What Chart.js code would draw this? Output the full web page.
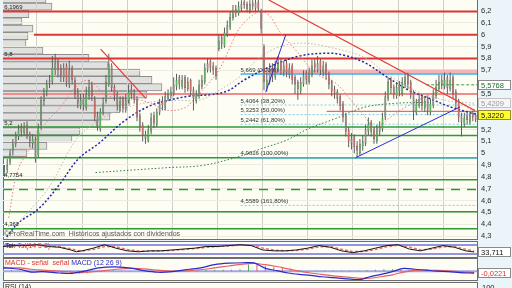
<!DOCTYPE html>
<html>
<head>
<meta charset="utf-8">
<script src="https://cdn.jsdelivr.net/npm/chart.js@4.4.1/dist/chart.umd.min.js"></script>
<style>
  html, body { margin: 0; padding: 0; }
  body { width: 512px; height: 288px; overflow: hidden; position: relative; background: #eaf4f9; font-family: "Liberation Sans", Arial, sans-serif; }
  .pane { position: absolute; left: 3px; width: 475px; box-sizing: border-box; border: 1px solid #6d6d6d; background: #fdfdf4; }
  canvas { position: absolute; }
  .txt { position: absolute; font-size: 7px; white-space: nowrap; color: #222; }
</style>
</head>
<body>
<div class="pane" style="top:-1px;height:241px"></div>
<div class="pane" style="top:241px;height:17px"></div>
<div class="pane" style="top:258px;height:23px"></div>
<div class="pane" style="top:282px;height:10px"></div>
<canvas id="vp" width="474" height="239" style="left:3px;top:0"></canvas>
<canvas id="main" width="512" height="239" style="left:0;top:0"></canvas>
<canvas id="sto" width="512" height="15" style="left:0;top:242px"></canvas>
<canvas id="macd" width="512" height="21" style="left:0;top:259px"></canvas>
<div class="txt" style="left:5px;top:283px">RSI (14)</div>
<div class="txt" style="left:482px;top:283px;font-size:7.5px">100</div>
<script>
const N = 168;

// daily candles
const opens = [
  4.82,4.86,4.92,5.02,5.08,5.14,5.22,5.17,5.24,5.16,5.08,5.12,
  4.98,5.24,5.44,5.52,5.62,5.60,5.70,5.78,5.72,5.64,5.74,5.58,
  5.72,5.62,5.52,5.40,5.47,5.38,5.48,5.58,5.46,5.32,5.20,5.34,
  5.44,5.58,5.74,5.56,5.50,5.38,5.46,5.36,5.44,5.54,5.50,5.46,
  5.32,5.24,5.16,5.10,5.18,5.32,5.24,5.34,5.44,5.38,5.46,5.48,
  5.50,5.56,5.64,5.56,5.64,5.54,5.62,5.54,5.44,5.48,5.56,5.60,
  5.70,5.78,5.74,5.72,5.88,5.98,5.90,6.00,6.06,6.14,6.22,6.18,
  6.22,6.28,6.26,6.20,6.27,6.22,6.28,6.20,5.90,5.56,5.60,5.72,
  5.64,5.70,5.78,5.68,5.76,5.66,5.74,5.64,5.60,5.52,5.58,5.68,
  5.60,5.66,5.76,5.70,5.78,5.68,5.75,5.67,5.60,5.54,5.52,5.48,
  5.42,5.32,5.20,5.08,5.14,5.06,5.00,5.06,5.08,5.18,5.26,5.20,
  5.10,5.18,5.20,5.30,5.46,5.62,5.56,5.48,5.58,5.50,5.58,5.66,
  5.60,5.52,5.34,5.40,5.48,5.38,5.46,5.34,5.40,5.48,5.54,5.62,
  5.56,5.64,5.54,5.64,5.52,5.44,5.32,5.24,5.32,5.26,5.34,5.28
];
const highs = [
  4.90,4.95,5.03,5.12,5.18,5.24,5.25,5.26,5.27,5.18,5.16,5.14,
  5.25,5.48,5.55,5.62,5.66,5.82,5.84,5.80,5.75,5.76,5.76,5.78,
  5.74,5.64,5.55,5.50,5.50,5.56,5.62,5.60,5.48,5.35,5.38,5.47,
  5.66,5.84,5.76,5.58,5.52,5.48,5.48,5.50,5.58,5.58,5.54,5.48,
  5.34,5.26,5.19,5.24,5.34,5.35,5.38,5.46,5.48,5.52,5.54,5.56,
  5.64,5.67,5.66,5.66,5.66,5.64,5.63,5.56,5.53,5.62,5.66,5.76,
  5.80,5.80,5.77,5.74,6.00,6.00,6.06,6.12,6.19,6.25,6.25,6.28,
  6.29,6.30,6.28,6.29,6.30,6.30,6.30,6.22,5.92,5.68,5.76,5.76,
  5.78,5.82,5.80,5.78,5.79,5.76,5.76,5.66,5.62,5.64,5.70,5.70,
  5.72,5.79,5.80,5.82,5.80,5.78,5.77,5.69,5.62,5.57,5.54,5.50,
  5.44,5.34,5.22,5.17,5.16,5.10,5.12,5.15,5.24,5.30,5.28,5.22,
  5.24,5.27,5.34,5.52,5.64,5.64,5.58,5.60,5.61,5.64,5.67,5.68,
  5.62,5.53,5.46,5.50,5.50,5.48,5.48,5.46,5.54,5.62,5.66,5.66,
  5.68,5.66,5.68,5.66,5.54,5.46,5.34,5.34,5.35,5.35,5.36,5.34
];
const lows = [
  4.80,4.83,4.90,4.98,5.05,5.11,5.14,5.15,5.12,5.05,5.04,4.92,
  4.96,5.20,5.40,5.48,5.55,5.58,5.66,5.64,5.60,5.60,5.56,5.55,
  5.58,5.46,5.38,5.37,5.36,5.36,5.45,5.44,5.27,5.19,5.18,5.32,
  5.42,5.56,5.52,5.44,5.36,5.35,5.34,5.34,5.42,5.46,5.42,5.27,
  5.18,5.10,5.08,5.09,5.16,5.21,5.22,5.32,5.36,5.36,5.44,5.46,
  5.48,5.53,5.54,5.54,5.51,5.52,5.48,5.36,5.42,5.46,5.54,5.58,
  5.68,5.68,5.66,5.62,5.86,5.88,5.89,5.98,6.04,6.12,6.15,6.16,
  6.20,6.22,6.19,6.18,6.21,6.20,6.20,6.01,5.53,5.52,5.58,5.60,
  5.62,5.68,5.66,5.65,5.64,5.63,5.58,5.50,5.45,5.50,5.56,5.58,
  5.58,5.64,5.68,5.68,5.66,5.65,5.62,5.54,5.48,5.46,5.42,5.36,
  5.26,5.14,5.05,5.03,5.00,4.9616,4.98,5.02,5.06,5.15,5.14,5.08,
  5.08,5.15,5.18,5.28,5.44,5.50,5.46,5.46,5.48,5.48,5.55,5.54,
  5.46,5.28,5.32,5.38,5.36,5.35,5.32,5.32,5.38,5.46,5.52,5.54,
  5.54,5.50,5.52,5.46,5.38,5.26,5.14,5.22,5.24,5.24,5.27,5.26
];
const closes = [
  4.85,4.90,5.00,5.08,5.15,5.20,5.18,5.22,5.15,5.10,5.12,4.95,
  5.22,5.45,5.50,5.58,5.60,5.72,5.76,5.70,5.66,5.72,5.60,5.70,
  5.62,5.50,5.42,5.45,5.40,5.50,5.56,5.48,5.30,5.22,5.35,5.42,
  5.60,5.75,5.55,5.48,5.40,5.44,5.38,5.45,5.52,5.50,5.45,5.30,
  5.22,5.15,5.12,5.20,5.30,5.25,5.35,5.42,5.40,5.48,5.50,5.52,
  5.58,5.62,5.58,5.62,5.55,5.60,5.52,5.46,5.50,5.58,5.62,5.72,
  5.76,5.72,5.70,5.65,5.95,5.92,6.02,6.08,6.15,6.20,6.18,6.24,
  6.26,6.25,6.22,6.26,6.24,6.27,6.22,6.05,5.60,5.62,5.70,5.65,
  5.72,5.76,5.70,5.74,5.68,5.72,5.62,5.58,5.54,5.60,5.66,5.62,
  5.68,5.74,5.72,5.76,5.70,5.74,5.66,5.58,5.52,5.50,5.46,5.40,
  5.30,5.18,5.10,5.12,5.05,5.02,5.08,5.10,5.20,5.25,5.18,5.12,
  5.20,5.22,5.30,5.48,5.60,5.55,5.50,5.56,5.52,5.60,5.64,5.58,
  5.50,5.35,5.42,5.46,5.40,5.44,5.36,5.42,5.50,5.56,5.60,5.58,
  5.62,5.55,5.62,5.50,5.42,5.30,5.26,5.30,5.28,5.32,5.30,5.322
];

const monthStarts = [12, 28, 44, 60, 76, 92, 108, 124, 140, 156];
const priceTicks = [6.2, 6.1, 6, 5.9, 5.8, 5.7, 5.5, 5.2, 5.1, 5, 4.9, 4.8, 4.7, 4.6, 4.5, 4.4, 4.3];
const priceMin = 4.275, priceMax = 6.293;

// volume profile (left)
const vpPrice = [6.299, 6.237, 6.175, 6.113, 6.051, 5.989, 5.928, 5.866, 5.804, 5.742, 5.680,
                 5.618, 5.556, 5.494, 5.433, 5.371, 5.309, 5.247, 5.185, 5.123, 5.061, 5.000];
const vpVolume = [43, 49, 26, 19, 30, 25, 23, 40, 86, 105, 137, 149, 159, 144, 127, 117, 107, 94, 77, 69, 44, 24];

// horizontal levels
const resistLevels = [6.1969, 6.0, 5.8];
const resistFrom = [0, 11, 0];
const supportLevels = [5.22, 5.149, 4.9616, 4.7754, 4.505, 4.362];
const dashedLevel = 4.692;
const pinkLevel = 5.5;
const bandLevel = 5.69, bandFrom = 92.5;
const shortRedLevel = 5.353, shortRedFrom = 114.7;
const fibLevels = [5.669, 5.4064, 5.3253, 5.2442, 4.9616, 4.5589];
const fibLabels = ['5,669 (0,00%)', '5,4064 (38,20%)', '5,3253 (50,00%)', '5,2442 (61,80%)', '4,9616 (100,00%)', '4,5589 (161,80%)'];
const fibFrom = 84.2;
const levelLabels = ['6,1969', '5,8', '5,2', '4,7754', '4,362'];
const levelLabelAt = [6.1969, 5.8, 5.22, 4.7754, 4.362];
const greenMark = 5.5768, greenMarkFrom = 150;

// trend lines [index, price]
const trendRed1 = [[34.6, 5.878], [50.6, 5.463]];
const trendRed2 = [[94.2, 6.293], [167.3, 5.36]];
const trendBlue1 = [[93.1, 5.514], [100.2, 5.997]];
const trendBlue2 = [[125.0, 4.9616], [162.0, 5.39]];

// moving averages
const maBlueIdx = [1.3, 5.5, 12.6, 19.7, 26.8, 33.9, 42.8, 51.6, 58.7, 65.8, 74.7, 80, 85.3, 94.2, 104.8, 115.5, 120.8, 127.9, 136.8, 143.9, 151.1, 158, 165.1, 167.5];
const maBlueVal = [4.293, 4.412, 4.530, 4.725, 4.954, 5.081, 5.268, 5.395, 5.446, 5.480, 5.497, 5.53, 5.615, 5.725, 5.819, 5.844, 5.827, 5.768, 5.632, 5.53, 5.463, 5.395, 5.344, 5.33];
const maGrayIdx = [1.3, 5.5, 16.2, 25.7, 32.8, 41, 51.6, 62.3, 69.4, 75.4, 84.6, 90.6, 97.7, 105.9, 115.5, 127.9, 136.7, 147.4, 158, 165.1, 167.5];
const maGrayVal = [4.276, 4.412, 4.708, 5.107, 5.259, 5.361, 5.429, 5.446, 5.446, 5.514, 5.658, 5.802, 5.895, 5.929, 5.895, 5.81, 5.658, 5.514, 5.44, 5.425, 5.4209];
const maRedIdx = [2.0, 5.5, 11.6, 15.1, 20.8, 25.7, 29.6, 32.8, 36.4, 43.5, 49.1, 52.3, 58.7, 64.7, 68.3, 72.9, 76.5, 80, 82.8, 85.3, 90.6, 94.2, 98.4, 103.8, 110.8, 118, 122.5, 127.9, 132.1, 136.7, 143.8, 154.5, 160.5, 165.1, 167.5];
const maRedVal = [4.454, 4.870, 5.107, 5.251, 5.403, 5.556, 5.615, 5.573, 5.488, 5.463, 5.446, 5.42, 5.361, 5.386, 5.471, 5.59, 5.7, 5.869, 6.014, 6.098, 6.192, 6.166, 6.014, 5.869, 5.675, 5.59, 5.471, 5.319, 5.208, 5.293, 5.403, 5.514, 5.446, 5.378, 5.36];
const maGreenIdx = [32.8, 58.7, 70.4, 82.5, 91.7, 100.2, 108.4, 118, 127.9, 138.5, 151];
const maGreenVal = [4.836, 4.878, 4.895, 4.963, 5.039, 5.107, 5.208, 5.293, 5.386, 5.42, 5.429];

// oscillator panel
const stoIdx = [0,4,8,12,16,20,24,26,28,32,36,40,44,48,52,56,60,64,68,72,76,80,84,88,92,96,100,104,108,112,116,120,124,128,132,136,140,144,148,152,156,160,164,167];
const stoK = [70,76,76,82,70,65,47,35,41,59,82,59,41,35,41,41,47,53,59,70,70,76,82,76,47,41,41,47,59,76,65,41,29,41,59,76,82,53,41,59,76,65,41,33.711];
const stoD = [72,74,77,79,75,68,55,45,40,50,70,68,50,40,38,41,44,50,56,64,70,73,79,79,60,46,41,44,52,68,70,52,36,36,50,68,79,66,48,52,68,70,52,40];

// MACD panel
const macdIdx = [0,6,10,14,20,24,28,34,40,46,50,55,60,66,70,75,80,85,89,93,97,101,105,109,113,117,121,125,127,130,134,138,142,146,150,154,158,162,167];
const macdVal = [0.035,0.02,-0.01,-0.005,-0.02,-0.025,-0.005,0.035,0.045,0.03,0.005,-0.012,-0.005,0.02,0.035,0.07,0.085,0.09,0.088,0.03,0.005,-0.02,-0.035,-0.045,-0.06,-0.07,-0.08,-0.09,-0.088,-0.06,-0.035,-0.005,0.03,0.02,0.01,0.0,-0.005,-0.015,-0.0221];
const signalVal = [0.04,0.035,0.02,0.01,0.0,-0.01,-0.015,0.0,0.02,0.03,0.025,0.01,0.0,0.005,0.015,0.035,0.055,0.075,0.082,0.07,0.05,0.025,0.0,-0.02,-0.035,-0.05,-0.062,-0.072,-0.078,-0.075,-0.06,-0.04,-0.01,0.008,0.012,0.008,0.002,-0.006,-0.015];
const histVal = [0.015,0.012,0.005,0.0,-0.004,-0.006,-0.01,-0.018,-0.025,-0.028,
  -0.022,-0.012,0.004,0.008,0.006,0.003,-0.002,-0.004,-0.003,0.002,
  0.004,0.006,0.008,0.01,0.012,0.014,0.015,0.014,0.02,0.07,
  0.068,0.055,0.045,0.035,0.025,0.012,0.004,0.005,0.006,0.007,
  0.006,0.006,0.008,0.012,0.016,0.02,0.022,0.018,0.012,0.008,
  -0.004,-0.006,-0.008,-0.01,-0.012,-0.012];
const histIdx = histVal.map((v, k) => k * 3);

const FONT = '"Liberation Sans"';
const fmt = v => String(Math.round(v * 10) / 10).replace('.', ',');
const pts = (idx, val) => idx.map((x, k) => ({ x: x, y: val[k] }));
const hline = (y, from, color, width, dash, order) => ({
  type: 'line', data: [{ x: from, y: y }, { x: N, y: y }], borderColor: color, borderWidth: width,
  borderDash: dash || [], pointRadius: 0, order: order || 20
});
const seg = (p, color, width) => ({
  type: 'line', data: p.map(q => ({ x: q[0], y: q[1] })), borderColor: color, borderWidth: width, pointRadius: 0, order: 1
});
const ma = (idx, val, color, width, dash) => ({
  type: 'line', data: pts(idx, val), borderColor: color, borderWidth: width, borderDash: dash,
  pointRadius: 0, tension: 0.35, order: 8
});

function box(ctx, text, yc, bg, fg, line) {
  const y = Math.round(yc);
  ctx.fillStyle = bg;
  ctx.fillRect(478, y - 5, 33, 10);
  ctx.strokeStyle = line;
  ctx.lineWidth = 1;
  ctx.strokeRect(478.5, y - 4.5, 32, 9);
  ctx.fillStyle = fg;
  ctx.textAlign = 'left';
  ctx.textBaseline = 'middle';
  ctx.fillText(text, 481, y + 0.5);
}

const common = {
  animation: false, responsive: false, events: [],
  plugins: { legend: { display: false }, tooltip: { enabled: false } }
};

// volume profile chart (behind)
new Chart(document.getElementById('vp'), {
  type: 'bar',
  data: { datasets: [{
    data: pts(vpPrice, vpVolume).map(p => ({ x: p.y, y: p.x })),
    backgroundColor: '#e0e0de', borderColor: '#8e8e8e', borderWidth: 1,
    barPercentage: 1, categoryPercentage: 1
  }] },
  options: Object.assign({}, common, {
    indexAxis: 'y',
    scales: {
      x: { type: 'linear', min: 0, max: 474, display: false },
      y: { type: 'linear', min: priceMin, max: priceMax, display: false, offset: false }
    }
  })
});

// main price chart
const datasets = [];
resistLevels.forEach((v, k) => datasets.push(hline(v, resistFrom[k], '#e03434', 2)));
supportLevels.forEach(v => datasets.push(hline(v, 0, '#2f9a35', 1.5)));
datasets.push(hline(dashedLevel, 0, '#2f9a35', 1.5, [9, 7]));
datasets.push(hline(pinkLevel, 0, '#f08c8c', 2));
datasets.push(hline(bandLevel, bandFrom, '#f4b4b4', 4));
datasets.push(hline(shortRedLevel, shortRedFrom, '#e04a4a', 1));
fibLevels.forEach((v, k) => datasets.push(
  (k === 0 || k === 4) ? hline(v, fibFrom, '#35b2ee', 1.5, [], 19) : hline(v, fibFrom, '#7ccbf2', 1, [2, 2], 19)));
datasets.push(hline(greenMark, greenMarkFrom, '#3d9a50', 1, [3, 2], 9));
datasets.push(ma(maGrayIdx, maGrayVal, '#b9b9b4', 1, [1.5, 2]));
datasets.push(ma(maGreenIdx, maGreenVal, '#2d7d45', 1, [1.5, 2]));
datasets.push(ma(maRedIdx, maRedVal, '#e87a7a', 1, [1.5, 2]));
datasets.push(ma(maBlueIdx, maBlueVal, '#2424a8', 1.5, [2, 2]));
datasets.push({
  type: 'bar', data: closes.map((c, i) => ({ x: i + 0.5, y: [lows[i], highs[i]] })),
  backgroundColor: '#5e5e5e', maxBarThickness: 1, grouped: false, order: 4
});
datasets.push({
  type: 'bar', data: closes.map((c, i) => ({ x: i + 0.5, y: [opens[i], c] })),
  backgroundColor: closes.map((c, i) => c >= opens[i] ? '#5cc25c' : '#e46a6a'),
  borderColor: '#6a6a6a', borderWidth: 0.6, borderSkipped: false,
  maxBarThickness: 3, minBarLength: 1, grouped: false, order: 3
});
datasets.push(seg(trendRed1, '#e23a3a', 1.2));
datasets.push(seg(trendRed2, '#e23a3a', 1.2));
datasets.push(seg(trendBlue1, '#2b2bd0', 1));
datasets.push(seg(trendBlue2, '#2b2bd0', 1));

const mainText = {
  id: 'mainText',
  afterDatasetsDraw(chart) {
    const ctx = chart.ctx, x = chart.scales.x, y = chart.scales.y;
    ctx.save();
    ctx.font = '6px ' + FONT;
    ctx.fillStyle = '#222';
    ctx.textAlign = 'left';
    ctx.textBaseline = 'bottom';
    levelLabels.forEach((t, k) => ctx.fillText(t, x.getPixelForValue(0.4), y.getPixelForValue(levelLabelAt[k]) - 1));
    ctx.fillStyle = '#333';
    fibLabels.forEach((t, k) => ctx.fillText(t, x.getPixelForValue(fibFrom), y.getPixelForValue(fibLevels[k]) - 1));
    ctx.font = '7px ' + FONT;
    ctx.fillStyle = '#555';
    ctx.textBaseline = 'alphabetic';
    ctx.fillText('©ProRealTime.com  Históricos ajustados con dividendos', 4, chart.chartArea.bottom - 3);
    ctx.restore();
  },
  afterDraw(chart) {
    const ctx = chart.ctx, y = chart.scales.y;
    ctx.save();
    ctx.font = '7.5px ' + FONT;
    box(ctx, '5,5768', y.getPixelForValue(5.5768), '#ffffff', '#1f6e2e', '#8a8a8a');
    box(ctx, '5,4209', y.getPixelForValue(5.4209), '#f6f6f6', '#9a9a9a', '#c4c4c4');
    box(ctx, '5,3220', y.getPixelForValue(5.322), '#ffff30', '#111', '#9a8a30');
    ctx.restore();
  }
};

new Chart(document.getElementById('main'), {
  type: 'line',
  data: { datasets: datasets },
  options: Object.assign({}, common, {
    layout: { padding: { left: 3, right: 0, top: 0, bottom: 0 } },
    scales: {
      x: {
        type: 'linear', min: 0, max: N, offset: false,
        afterBuildTicks: s => { s.ticks = monthStarts.map(v => ({ value: v })); },
        ticks: { display: false },
        grid: { color: '#d0d0ca', drawTicks: false, offset: false },
        border: { display: false }
      },
      y: {
        type: 'linear', position: 'right', min: priceMin, max: priceMax,
        afterBuildTicks: s => { s.ticks = priceTicks.map(v => ({ value: v })); },
        afterFit: s => { s.width = 35; s.paddingTop = 0; s.paddingBottom = 0; },
        ticks: { font: { family: 'Liberation Sans', size: 7.5 }, color: '#2a2a2a', padding: 4, callback: v => fmt(v) },
        grid: { color: '#ebebe0', drawTicks: false },
        border: { display: false }
      }
    }
  }),
  plugins: [mainText]
});

function panelText(parts, boxText, boxValue, boxFg) {
  return {
    id: 'panelText',
    afterDraw(chart) {
      const ctx = chart.ctx;
      ctx.save();
      ctx.font = '7px ' + FONT;
      ctx.textBaseline = 'top';
      ctx.textAlign = 'left';
      let x = 5;
      parts.forEach(p => { ctx.fillStyle = p[1]; ctx.fillText(p[0], x, 0.5); x += ctx.measureText(p[0]).width; });
      ctx.font = '7.5px ' + FONT;
      box(ctx, boxText, chart.scales.y.getPixelForValue(boxValue), '#ffffff', boxFg, '#8a8a8a');
      ctx.restore();
    }
  };
}

const panelScales = (min, max) => ({
  x: { type: 'linear', min: 0, max: N, display: false, offset: false },
  y: { type: 'linear', min: min, max: max, display: false }
});

new Chart(document.getElementById('sto'), {
  type: 'line',
  data: { datasets: [
    { data: pts(stoIdx, stoK), borderColor: '#151515', borderWidth: 1, pointRadius: 0, order: 1 },
    { data: pts(stoIdx, stoD), borderColor: '#ec7272', borderWidth: 1.5, borderDash: [3, 2], pointRadius: 0, order: 2 },
    hline(80, 0, '#9494e4', 2),
    hline(20, 0, '#9494e4', 2)
  ] },
  options: Object.assign({}, common, { layout: { padding: { left: 3, right: 35 } }, scales: panelScales(0, 100) }),
  plugins: [panelText([['Tsi: ', '#111'], ['Tsi(14 5 3)', '#e03030']], '33,711', stoK[stoK.length - 1], '#111')]
});

new Chart(document.getElementById('macd'), {
  type: 'line',
  data: { datasets: [
    { type: 'bar', data: pts(histIdx, histVal),
      backgroundColor: histVal.map((v, k) => k > 0 && v < histVal[k - 1] ? '#e46060' : '#48b048'),
      maxBarThickness: 1, grouped: false, order: 5 },
    { data: pts(macdIdx, signalVal), borderColor: '#e46262', borderWidth: 1.2, pointRadius: 0, tension: 0.3, order: 2 },
    { data: pts(macdIdx, macdVal), borderColor: '#2a2ac8', borderWidth: 1.2, pointRadius: 0, tension: 0.3, order: 1 },
    hline(0, 0, '#a4a4e8', 2)
  ] },
  options: Object.assign({}, common, { layout: { padding: { left: 3, right: 35 } }, scales: panelScales(-0.095, 0.13) }),
  plugins: [panelText([['MACD - señal  señal ', '#e03030'], ['MACD (12 26 9)', '#2a2ac8']], '-0,0221', macdVal[macdVal.length - 1], '#e03030')]
});
</script>
</body>
</html>
